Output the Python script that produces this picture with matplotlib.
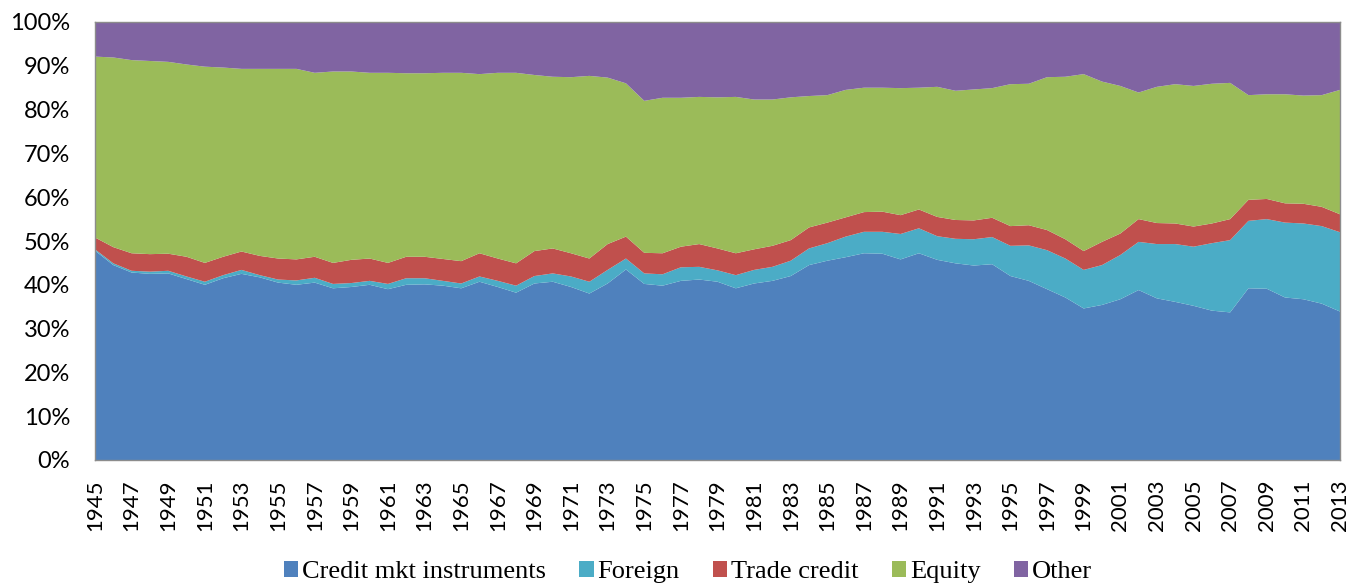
import matplotlib
matplotlib.use("Agg")
import matplotlib.pyplot as plt
import numpy as np
from matplotlib.patches import Patch

years = list(range(1945, 2014))

credit_mkt = [47.8, 44.5, 42.8, 42.5, 42.6, 41.3, 40.0, 41.5, 42.5, 41.7,
              40.5, 40.0, 40.5, 39.2, 39.5, 40.0, 39.0, 40.0, 40.1, 39.8,
              39.2, 40.7, 39.5, 38.2, 40.3, 40.7, 39.5, 38.0, 40.3, 43.5,
              40.2, 39.8, 40.9, 41.2, 40.7, 39.2, 40.3, 40.9, 42.0, 44.5,
              45.5, 46.3, 47.2, 47.1, 45.8, 47.2, 45.7, 44.9, 44.4, 44.7,
              42.0, 40.9, 39.0, 37.1, 34.6, 35.4, 36.7, 38.8, 36.9, 36.1,
              35.2, 34.1, 33.7, 39.2, 39.1, 37.1, 36.7, 35.7, 33.9]

foreign = [0.3, 0.4, 0.4, 0.5, 0.6, 0.6, 0.7, 0.7, 0.9, 0.5,
           0.7, 1.0, 1.1, 1.0, 0.9, 0.9, 1.2, 1.5, 1.4, 1.1,
           1.1, 1.2, 1.4, 1.6, 1.7, 1.9, 2.4, 2.7, 3.1, 2.5,
           2.4, 2.6, 3.1, 2.9, 2.6, 3.0, 3.1, 3.2, 3.5, 3.8,
           4.0, 4.7, 4.9, 5.0, 5.8, 5.7, 5.4, 5.6, 6.0, 6.2,
           6.9, 8.1, 8.9, 8.9, 8.8, 9.1, 10.1, 11.0, 12.4, 13.2,
           13.5, 15.4, 16.5, 15.4, 15.9, 17.1, 17.3, 17.7, 18.1]

trade_credit = [2.7, 3.7, 4.0, 4.0, 3.9, 4.5, 4.3, 4.2, 4.2, 4.4,
                4.8, 4.8, 4.8, 4.8, 5.3, 5.1, 4.8, 4.9, 4.9, 5.0,
                5.1, 5.3, 5.1, 5.1, 5.7, 5.7, 5.3, 5.3, 5.9, 5.0,
                4.7, 4.8, 4.7, 5.2, 5.0, 5.0, 4.7, 4.8, 4.7, 4.8,
                4.7, 4.4, 4.5, 4.6, 4.3, 4.3, 4.4, 4.3, 4.3, 4.4,
                4.5, 4.6, 4.6, 4.4, 4.3, 5.3, 4.9, 5.2, 4.8, 4.7,
                4.6, 4.5, 4.8, 4.8, 4.6, 4.4, 4.5, 4.4, 4.1]

equity = [41.3, 43.3, 44.1, 44.1, 43.8, 43.9, 44.8, 43.2, 41.7, 42.7,
          43.3, 43.5, 42.0, 43.7, 43.0, 42.4, 43.4, 41.9, 41.9, 42.5,
          43.0, 40.9, 42.4, 43.5, 40.2, 39.2, 40.2, 41.7, 38.0, 35.0,
          34.7, 35.5, 34.0, 33.6, 34.5, 35.7, 34.2, 33.4, 32.6, 30.0,
          29.1, 29.1, 28.4, 28.3, 29.0, 27.8, 29.7, 29.5, 29.9, 29.6,
          32.4, 32.3, 34.9, 37.1, 40.4, 36.6, 33.7, 28.9, 31.1, 31.8,
          32.1, 31.9, 31.1, 23.9, 23.9, 24.9, 24.7, 25.5, 28.4]

other = [7.9, 8.1, 8.7, 8.9, 9.1, 9.7, 10.2, 10.4, 10.7, 10.7,
         10.7, 10.7, 11.6, 11.3, 11.3, 11.6, 11.6, 11.7, 11.7, 11.6,
         11.6, 11.9, 11.6, 11.6, 12.1, 12.5, 12.6, 12.3, 12.7, 14.0,
         18.0, 17.3, 17.3, 17.1, 17.2, 17.1, 17.7, 17.7, 17.2, 16.9,
         16.7, 15.5, 15.0, 15.0, 15.1, 15.0, 14.8, 15.7, 15.4, 15.1,
         14.2, 14.1, 12.6, 12.5, 11.9, 13.6, 14.6, 16.1, 14.8, 14.2,
         14.6, 14.1, 13.9, 16.7, 16.5, 16.5, 16.8, 16.7, 15.5]

series_names = ["Credit mkt instruments", "Foreign", "Trade credit", "Equity", "Other"]
colors = ["#4F81BD", "#4BACC6", "#C0504D", "#9BBB59", "#8064A2"]

data = np.array([credit_mkt, foreign, trade_credit, equity, other], dtype=float)
data = data / data.sum(axis=0) * 100.0

fig = plt.figure(figsize=(13.5, 5.83), dpi=100)
ax = fig.add_axes([95 / 1350, 1 - 460 / 583, (1340 - 95) / 1350, (460 - 22) / 583])

ax.stackplot(years, data, colors=colors, linewidth=0)

ax.set_xlim(1945, 2013)
ax.set_ylim(0, 100)
ax.set_yticks(np.arange(0, 101, 10))
ax.set_yticklabels([f"{v}%" for v in range(0, 101, 10)])
xt = list(range(1945, 2014, 2))
ax.set_xticks(xt)
ax.set_xticklabels([str(y) for y in xt], rotation=90)

for lab in ax.get_xticklabels():
    lab.set_fontfamily("Lato")
    lab.set_fontsize(16)
    lab.set_color("black")
for lab in ax.get_yticklabels():
    lab.set_fontfamily("Lato")
    lab.set_fontsize(17)
    lab.set_color("black")
ax.tick_params(axis="x", length=0, pad=14)
ax.tick_params(axis="y", length=0, pad=18)

for sp in ax.spines.values():
    sp.set_color("#8c8c8c")
    sp.set_linewidth(1.0)

handles = [Patch(facecolor=c, edgecolor="none") for c in colors]
leg = fig.legend(handles, series_names, loc="center",
                 bbox_to_anchor=(688 / 1350, 1 - 572 / 583),
                 ncol=5, frameon=False,
                 prop={"family": "Liberation Serif", "size": 19},
                 handlelength=0.55, handleheight=0.55, handletextpad=0.15,
                 columnspacing=1.25, borderaxespad=0, borderpad=0)

fig.savefig("out.png", dpi=100)
